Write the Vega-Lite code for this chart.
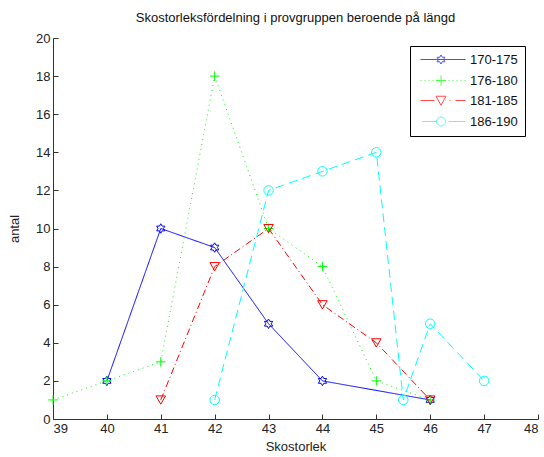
{
  "$schema": "https://vega.github.io/schema/vega-lite/v6.json",
  "width": 485,
  "height": 381,
  "autosize": "none",
  "padding": {"left": 53, "top": 38, "right": 6, "bottom": 38},
  "background": "white",
  "config": {
    "view": {"stroke": null},
    "font": "Liberation Sans",
    "axis": {
      "grid": false,
      "domainColor": "#333",
      "tickColor": "#333",
      "labelColor": "#222",
      "titleColor": "#222",
      "labelFont": "Liberation Sans",
      "titleFont": "Liberation Sans",
      "labelFontSize": 13,
      "titleFontSize": 13,
      "titleFontWeight": "normal",
      "tickSize": -5,
      "labelPadding": 8
    }
  },
  "title": {
    "text": "Skostorleksfördelning i provgruppen beroende på längd",
    "font": "Liberation Sans",
    "fontSize": 13,
    "fontWeight": "normal",
    "color": "#111",
    "offset": 7
  },
  "data": {
    "values": [
      {"x": 40, "antal": 2, "grupp": "170-175"},
      {"x": 41, "antal": 10, "grupp": "170-175"},
      {"x": 42, "antal": 9, "grupp": "170-175"},
      {"x": 43, "antal": 5, "grupp": "170-175"},
      {"x": 44, "antal": 2, "grupp": "170-175"},
      {"x": 46, "antal": 1, "grupp": "170-175"},
      {"x": 39, "antal": 1, "grupp": "176-180"},
      {"x": 40, "antal": 2, "grupp": "176-180"},
      {"x": 41, "antal": 3, "grupp": "176-180"},
      {"x": 42, "antal": 18, "grupp": "176-180"},
      {"x": 43, "antal": 10, "grupp": "176-180"},
      {"x": 44, "antal": 8, "grupp": "176-180"},
      {"x": 45, "antal": 2, "grupp": "176-180"},
      {"x": 46, "antal": 1, "grupp": "176-180"},
      {"x": 41, "antal": 1, "grupp": "181-185"},
      {"x": 42, "antal": 8, "grupp": "181-185"},
      {"x": 43, "antal": 10, "grupp": "181-185"},
      {"x": 44, "antal": 6, "grupp": "181-185"},
      {"x": 45, "antal": 4, "grupp": "181-185"},
      {"x": 46, "antal": 1, "grupp": "181-185"},
      {"x": 42, "antal": 1, "grupp": "186-190"},
      {"x": 43, "antal": 12, "grupp": "186-190"},
      {"x": 44, "antal": 13, "grupp": "186-190"},
      {"x": 45, "antal": 14, "grupp": "186-190"},
      {"x": 45.5, "antal": 1, "grupp": "186-190"},
      {"x": 46, "antal": 5, "grupp": "186-190"},
      {"x": 47, "antal": 2, "grupp": "186-190"}
    ]
  },
  "encoding": {
    "x": {
      "field": "x",
      "type": "quantitative",
      "title": "Skostorlek",
      "scale": {"domain": [39, 48], "nice": false, "zero": false},
      "axis": {"values": [39, 40, 41, 42, 43, 44, 45, 46, 47, 48], "titlePadding": 5}
    },
    "y": {
      "field": "antal",
      "type": "quantitative",
      "title": "antal",
      "scale": {"domain": [0, 20], "nice": false},
      "axis": {"values": [0, 2, 4, 6, 8, 10, 12, 14, 16, 18, 20], "titlePadding": 14}
    }
  },
  "layer": [
    {
      "mark": {"type": "line", "strokeWidth": 1},
      "encoding": {
        "color": {
          "field": "grupp",
          "type": "nominal",
          "legend": null,
          "scale": {
            "domain": ["170-175", "176-180", "181-185", "186-190"],
            "range": ["#0000ff", "#00ff00", "#ff0000", "#00ffff"]
          }
        },
        "strokeDash": {
          "field": "grupp",
          "type": "nominal",
          "legend": null,
          "scale": {
            "domain": ["170-175", "176-180", "181-185", "186-190"],
            "range": [[1, 0], [1, 4], [7, 3, 1, 3], [9, 5]]
          }
        }
      }
    },
    {
      "mark": {"type": "point", "filled": false, "strokeWidth": 1, "size": 90, "opacity": 1},
      "encoding": {
        "color": {
          "field": "grupp",
          "type": "nominal",
          "legend": null,
          "scale": {
            "domain": ["170-175", "176-180", "181-185", "186-190"],
            "range": ["#0000ff", "#00ff00", "#ff0000", "#00ffff"]
          }
        },
        "shape": {
          "field": "grupp",
          "type": "nominal",
          "legend": null,
          "scale": {
            "domain": ["170-175", "176-180", "181-185", "186-190"],
            "range": [
              "M0,-1L0.289,-0.5L0.866,-0.5L0.577,0L0.866,0.5L0.289,0.5L0,1L-0.289,0.5L-0.866,0.5L-0.577,0L-0.866,-0.5L-0.289,-0.5Z",
              "M-1,0L1,0M0,-1L0,1",
              "M-1,-0.85L1,-0.85L0,0.9Z",
              "circle"
            ]
          }
        }
      }
    },
    {
      "transform": [{"filter": "false"}],
      "mark": {"type": "point", "filled": false, "strokeWidth": 1},
      "encoding": {
        "color": {
          "field": "grupp",
          "type": "nominal",
          "scale": {
            "domain": ["170-175", "176-180", "181-185", "186-190"],
            "range": ["#0000ff", "#00ff00", "#ff0000", "#00ffff"]
          }
        },
        "shape": {
          "field": "grupp",
          "type": "nominal",
          "scale": {
            "domain": ["170-175", "176-180", "181-185", "186-190"],
            "range": [
              "M-0.6,0L8.4,0M3.5,-0.9L3.76,-0.45L4.279,-0.45L4.02,0L4.279,0.45L3.76,0.45L3.5,0.9L3.24,0.45L2.721,0.45L2.98,0L2.721,-0.45L3.24,-0.45Z",
              "M-0.6,0L-0.4,0M0.2,0L0.4,0M1,0L1.2,0M1.8,0L2,0M5,0L5.2,0M5.8,0L6,0M6.6,0L6.8,0M7.4,0L7.6,0M8.2,0L8.4,0M2.5,0L4.5,0M3.5,-1L3.5,1",
              "M-0.6,0L2.2,0M5.2,0L5.4,0M6.4,0L8.4,0M2.5,-0.85L4.5,-0.85L3.5,0.95Z",
              "M-0.3,0L2.6,0M5,0L8.4,0M4.4,0A0.9,0.9,0,1,1,2.6,0A0.9,0.9,0,1,1,4.4,0Z"
            ]
          },
          "legend": {
            "orient": "none",
            "legendX": 357,
            "legendY": 8,
            "title": null,
            "strokeColor": "black",
            "fillColor": "white",
            "padding": 7,
            "symbolSize": 100,
            "symbolStrokeWidth": 1,
            "symbolOpacity": 1,
            "labelFontSize": 13,
            "labelFont": "Liberation Sans",
            "labelColor": "#111",
            "labelOffset": 40,
            "rowPadding": 6
          }
        }
      }
    }
  ],
  "resolve": {"scale": {"color": "independent", "shape": "independent", "strokeDash": "independent"}}
}
